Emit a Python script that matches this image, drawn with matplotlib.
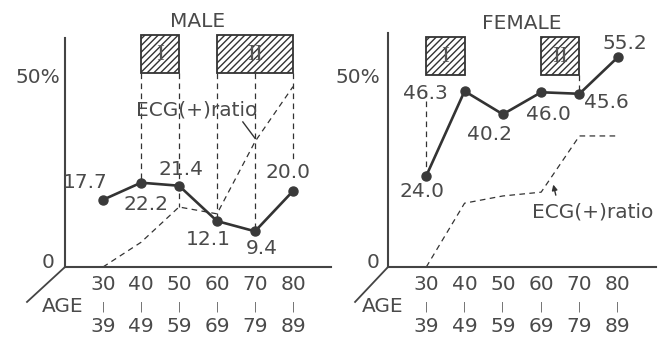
import numpy as np
import matplotlib
matplotlib.use("Agg")
import matplotlib.pyplot as plt
from matplotlib.patches import Rectangle

# leeftijdsgroepen
age_low = ["30", "40", "50", "60", "70", "80"]
age_high = ["39", "49", "59", "69", "79", "89"]

male_vals = [17.7, 22.2, 21.4, 12.1, 9.4, 20.0]
female_vals = [24.0, 46.3, 40.2, 46.0, 45.6, 55.2]

# ECG(+) ratio, gestippelde lijn
male_ecg = [0, 6.5, 15.8, 14.0, 33.0, 47.5]
female_ecg = [0, 16.8, 18.7, 19.7, 34.5, 34.5]

# periodes I en II (index van begin en einde)
male_periods = [("I", 1, 2), ("II", 3, 5)]
female_periods = [("I", 0, 1), ("II", 3, 4)]

W, H = 665, 338
TXT = "#4a4a4a"
LN = "#333333"
FS = 14.5

plt.rcParams['hatch.linewidth'] = 1.0
plt.rcParams['hatch.color'] = "#444444"

fig = plt.figure(figsize=(W/100, H/100), dpi=100)


def make_axes(left, right, top, bottom, ytop):
    ax = fig.add_axes([left/W, (H-bottom)/H, (right-left)/W, (bottom-top)/H])
    ax.set_xlim(-1, 6)
    ax.set_ylim(0, ytop)
    for s in ["top", "right"]:
        ax.spines[s].set_visible(False)
    for s in ["left", "bottom"]:
        ax.spines[s].set_linewidth(1.5)
        ax.spines[s].set_color("#444444")
    ax.set_xticks([])
    ax.set_yticks([])
    ax.patch.set_alpha(0)
    return ax


def lbl(ax, x, y, s, dx, dy, **kw):
    ax.annotate(s, (x, y), xytext=(dx, dy), textcoords="offset pixels",
                ha=kw.pop("ha", "center"), va=kw.pop("va", "center"),
                fontsize=kw.pop("fontsize", FS), color=TXT,
                annotation_clip=False, **kw)


def dashed(ax, xs, ys):
    ax.plot(xs, ys, color=LN, lw=0.9, dashes=(4.5, 3.5), clip_on=False, zorder=2)


def panel(ax, title, vals, ecg, periods, box_lo, box_hi, diag_dx, age_dx,
          y50_gap, y0_dx):
    idx = np.arange(len(vals))
    # dozen
    for name, a, b in periods:
        r = Rectangle((a, box_lo), b - a, box_hi - box_lo, facecolor="white",
                      edgecolor=LN, lw=1.3, hatch="/" * 5, clip_on=False, zorder=3)
        ax.add_patch(r)
        ax.text((a + b) / 2, (box_lo + box_hi) / 2, name, ha="center", va="center",
                fontsize=17, family="Liberation Serif", color="#555555", zorder=4)
    lbl(ax, 2.5, box_hi, title, 0, 14)
    dashed(ax, idx, ecg)
    ax.plot(idx, vals, color=LN, lw=1.9, marker="o", ms=6.5, mfc="#3a3a3a",
            mec="#3a3a3a", zorder=5, clip_on=False)
    # as-labels
    for i in idx:
        lbl(ax, i, 0, age_low[i], 0, -18)
        lbl(ax, i, 0, "|", 0, -40, fontsize=7)
        lbl(ax, i, 0, age_high[i], 0, -60)
    lbl(ax, -1, 0, "AGE", age_dx, -40)
    lbl(ax, -1, 50, "50%", -y50_gap, 0, ha="right")
    lbl(ax, -1, 0, "0", y0_dx, 5)
    ax.plot([-1, -1 + diag_dx], [0, -9.2], color="#444444", lw=1.3, clip_on=False)


# MALE
axm = make_axes(65, 331, 38, 267, 60.3)
panel(axm, "MALE", male_vals, male_ecg, male_periods, 51, 61, -1.0, -2, 5, -17)
for i, yb in [(1, male_vals[1]), (2, male_ecg[2]), (3, male_vals[3]),
              (4, male_vals[4]), (5, 28)]:
    dashed(axm, [i, i], [51, yb])
male_off = [(-18, 17), (5, -22), (2, 16), (-9, -18), (7, -17), (-5, 19)]
for i, (dx, dy) in enumerate(male_off):
    lbl(axm, i, male_vals[i], f"{male_vals[i]:.1f}", dx, dy)
axm.text(2.47, 41.3, "ECG(+)ratio", ha="center", va="center", fontsize=FS, color=TXT)
axm.plot([3.68, 4.0], [38.2, 33.9], color=LN, lw=1.0)

# FEMALE
axf = make_axes(388, 656, 33, 267, 61.6)
panel(axf, "FEMALE", female_vals, female_ecg, female_periods, 50.5, 60.5, -0.86, -5, 8, -15)
dashed(axf, [0, 0], [46.3, female_vals[0]])
dashed(axf, [4, 4], [50.5, female_vals[4]])
female_off = [(-4, -16), (-39, -2), (-13, -20), (7, -22), (27, -9), (7, 14)]
for i, (dx, dy) in enumerate(female_off):
    lbl(axf, i, female_vals[i], f"{female_vals[i]:.1f}", dx, dy)
axf.text(4.34, 14.5, "ECG(+)ratio", ha="center", va="center", fontsize=FS, color=TXT)
axf.annotate("", xy=(3.30, 22.4), xytext=(3.40, 18.2),
             arrowprops=dict(arrowstyle="-|>", color=LN, lw=1.0, mutation_scale=8))

fig.savefig("out.png", dpi=100, facecolor="white")
